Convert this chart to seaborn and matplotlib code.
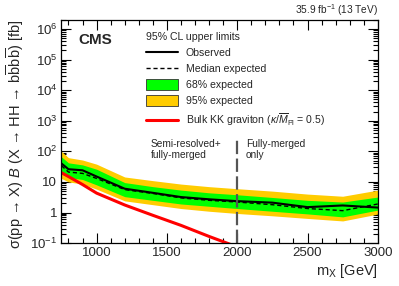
import numpy as np
import pandas as pd
import seaborn as sns
import matplotlib
matplotlib.use("Agg")
import matplotlib.pyplot as plt
from matplotlib.lines import Line2D
from matplotlib.patches import Patch
from matplotlib.ticker import FixedLocator, FuncFormatter, LogLocator, MultipleLocator

# limits vs resonance mass
mass = [750, 800, 900, 1000, 1200, 1400, 1600, 1800, 2000, 2250, 2500, 2750, 3000]
observed = [40, 26, 24, 15, 6.0, 4.4, 3.2, 2.7, 2.35, 2.1, 1.5, 1.7, 1.45]
expected = [34, 21, 19, 13, 5.6, 4.2, 3.0, 2.5, 2.2, 1.8, 1.35, 1.15, 1.9]
exp_68_up = [66, 42, 36, 26, 9.5, 7.0, 5.4, 4.4, 3.8, 3.1, 2.5, 2.2, 3.2]
exp_68_dn = [19, 14, 12, 8.0, 3.3, 2.5, 1.9, 1.6, 1.35, 1.1, 0.9, 0.72, 1.2]
exp_95_up = [100, 62, 52, 38, 14.5, 11, 8.5, 7.0, 6.0, 5.0, 4.0, 3.4, 5.4]
exp_95_dn = [13, 10, 8.5, 5.8, 2.4, 1.8, 1.35, 1.1, 0.93, 0.78, 0.64, 0.53, 0.89]

# bulk KK graviton
theory_mass = [750, 800, 900, 1000, 1200, 1400, 1600, 1800, 2000]
theory_xsec = [20, 15, 8.2, 4.3, 1.76, 0.81, 0.38, 0.165, 0.075]

df = pd.DataFrame({"mass": mass, "obs": observed, "exp": expected})
th = pd.DataFrame({"mass": theory_mass, "xsec": theory_xsec})

sns.set_style("ticks")
plt.rcParams["font.family"] = ["Liberation Sans", "DejaVu Sans"]
plt.rcParams["mathtext.fontset"] = "custom"
plt.rcParams["mathtext.rm"] = "Liberation Sans"
plt.rcParams["mathtext.it"] = "Liberation Sans:italic"

fig = plt.figure(figsize=(3.99, 2.86), dpi=100)
ax = fig.add_axes([0.154, 0.150, 0.793, 0.781])

green = "#00ff00"
yellow = "#ffcc00"

ax.fill_between(mass, exp_95_dn, exp_95_up, color=yellow, lw=0)
ax.fill_between(mass, exp_68_dn, exp_68_up, color=green, lw=0)
sns.lineplot(data=df, x="mass", y="exp", ax=ax, color="black", lw=1.0,
             linestyle=(0, (3, 2)))
sns.lineplot(data=df, x="mass", y="obs", ax=ax, color="black", lw=1.5)
sns.lineplot(data=th, x="mass", y="xsec", ax=ax, color="#ff0000", lw=2.2)

ax.plot([2000, 2000], [0.1, 250], color="#555555", lw=1.6,
        linestyle=(0, (6, 2)))

ax.set_yscale("log")
ax.set_xlim(750, 3000)
ax.set_ylim(0.1, 2e6)

# ticks
ax.xaxis.set_major_locator(MultipleLocator(500))
ax.xaxis.set_minor_locator(MultipleLocator(100))
ax.yaxis.set_major_locator(FixedLocator([10.0**k for k in range(-1, 7)]))
ax.yaxis.set_minor_locator(LogLocator(base=10, subs=np.arange(2, 10), numticks=20))


def ylab(v, pos):
    e = int(round(np.log10(v)))
    if e == 0:
        return "1"
    if e == 1:
        return "10"
    return r"$10^{%d}$" % e


ax.yaxis.set_major_formatter(FuncFormatter(ylab))
ax.tick_params(which="both", direction="in", top=True, right=True,
               labelsize=9.5, color="black", width=0.8)
ax.tick_params(which="major", length=7, pad=3)
ax.tick_params(which="minor", length=3.5)
for s in ax.spines.values():
    s.set_linewidth(0.9)
    s.set_color("black")

ax.set_xlabel(r"m$_\mathrm{X}$ [GeV]", fontsize=10.5, loc="right", labelpad=2)
ax.set_ylabel(r"σ(pp → X) $\mathit{B}$ (X → HH → b$\overline{\mathrm{b}}$b$\overline{\mathrm{b}}$) [fb]",
              fontsize=10.5, loc="top", labelpad=3)

# labels
ax.text(0.052, 0.94, "CMS", transform=ax.transAxes, fontsize=11,
        fontweight="bold", ha="left", va="top")
ax.text(1.0, 1.026, r"35.9 fb$^{-1}$ (13 TeV)", transform=ax.transAxes,
        fontsize=7.3, ha="right", va="baseline")
ax.text(0.282, 0.465, "Semi-resolved+\nfully-merged", transform=ax.transAxes,
        fontsize=7.3, ha="left", va="top", linespacing=1.1)
ax.text(0.583, 0.465, "Fully-merged\nonly", transform=ax.transAxes,
        fontsize=7.3, ha="left", va="top", linespacing=1.1)

handles = [
    Line2D([], [], color="black", lw=1.5),
    Line2D([], [], color="black", lw=1.0, linestyle=(0, (3, 2))),
    Patch(facecolor=green, edgecolor="#333333", lw=0.6),
    Patch(facecolor=yellow, edgecolor="#333333", lw=0.6),
    Line2D([], [], color="#ff0000", lw=2.2),
]
labels = ["Observed", "Median expected", "68% expected", "95% expected",
          r"Bulk KK graviton ($\kappa/\overline{M}_\mathrm{Pl}$ = 0.5)"]
leg = ax.legend(handles, labels, title="95% CL upper limits", loc="upper left",
                bbox_to_anchor=(0.262, 0.953), frameon=False, fontsize=7.6,
                title_fontsize=7.6, handlelength=3.0, handleheight=1.1,
                labelspacing=0.5, handletextpad=0.7, alignment="left",
                borderaxespad=0, borderpad=0.2)

fig.savefig("out.png", dpi=100)
